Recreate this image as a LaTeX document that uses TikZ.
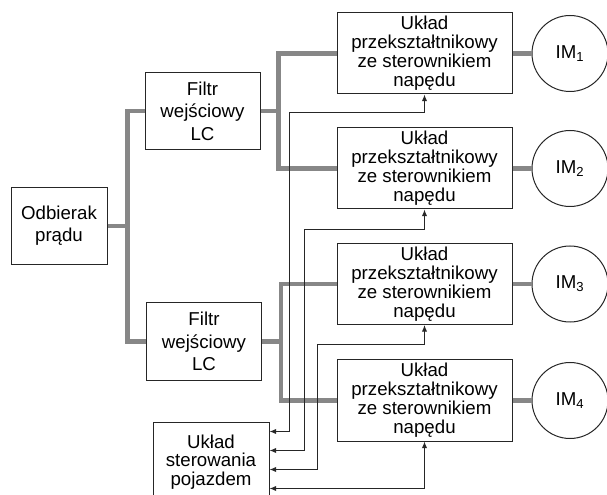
\documentclass[tikz,border=0pt]{standalone}
\usepackage{fontspec}
\setmainfont{Liberation Sans}
\usepackage{tikz}
\usetikzlibrary{arrows}
\usetikzlibrary{arrows.meta}
\usetikzlibrary{calc}
\definecolor{szyna}{RGB}{135,135,135}

\tikzset{
	blok/.style={draw=black!85, line width=0.75pt, align=center, inner sep=0pt},
	przeks/.style={blok, minimum width=131.25pt, minimum height=60.75pt, font=\fontsize{14}{14.2}\selectfont},
	filtr/.style={blok, minimum width=86.25pt, minimum height=58pt, font=\fontsize{14}{16.8}\selectfont},
	silnik/.style={draw=black!85, line width=0.75pt, circle, minimum size=57pt, inner sep=0pt, font=\fontsize{14}{16}\selectfont},
	zasil/.style={szyna, line width=3.6pt},
	sygnal/.style={black!85, line width=0.75pt, {Latex[length=5pt,width=4pt]}-{Latex[length=5pt,width=4pt]}}
}

\begin{document}
\begin{tikzpicture}[x=0.75pt, y=-0.75pt]
	\useasboundingbox (0,0) rectangle (607,495);
	% bloki
	\node[filtr, minimum width=72pt, font=\fontsize{14}{16.3}\selectfont] (odb) at (59,226) {Odbierak\\prądu};
	\node[filtr] (filtr1) at (202.5,111) {Filtr\\wejściowy\\LC};
	\node[filtr] (filtr2) at (204,341.5) {Filtr\\wejściowy\\LC};
	\node[blok, minimum width=87pt, minimum height=60pt, font=\fontsize{14}{13.9}\selectfont] (ster) at (211,462) {Układ\\sterowania\\pojazdem};
	\node[przeks] (conv1) at (424.5,53.5) {Układ\\przekształtnikowy\\ze sterownikiem\\napędu};
	\node[przeks] (conv2) at (424.5,168.5) {Układ\\przekształtnikowy\\ze sterownikiem\\napędu};
	\node[przeks] (conv3) at (424.5,284) {Układ\\przekształtnikowy\\ze sterownikiem\\napędu};
	\node[przeks] (conv4) at (424.5,400.5) {Układ\\przekształtnikowy\\ze sterownikiem\\napędu};
	\node[silnik] (im1) at (570,53.5) {IM\textsubscript{1}};
	\node[silnik] (im2) at (570,168.5) {IM\textsubscript{2}};
	\node[silnik] (im3) at (570,284) {IM\textsubscript{3}};
	\node[silnik] (im4) at (570,400.5) {IM\textsubscript{4}};
	% tory zasilania
	\draw[zasil] (odb.east) -- ++(20,0) coordinate (b0);
	\draw[zasil] (filtr1.west) -| (b0) |- (filtr2.west);
	\draw[zasil] (filtr1.east) -- ++(18,0) coordinate (b1);
	\draw[zasil] (conv1.west) -| (b1) |- (conv2.west);
	\draw[zasil] (filtr2.east) -- ++(19,0) coordinate (b2);
	\draw[zasil] (conv3.west) -| (b2) |- (conv4.west);
	\draw[zasil] (conv1.east) -- (im1.west);
	\draw[zasil] (conv2.east) -- (im2.west);
	\draw[zasil] (conv3.east) -- (im3.west);
	\draw[zasil] (conv4.east) -- (im4.west);
	% sygnaly sterujace
	\coordinate (s1) at ($(ster.north east)+(0,10)$);
	\coordinate (s2) at ($(ster.north east)+(0,29)$);
	\coordinate (s3) at ($(ster.north east)+(0,48)$);
	\coordinate (s4) at ($(ster.north east)+(0,67)$);
	\coordinate (k1) at ($(conv1.south)+(-135,18)$);
	\coordinate (k2) at ($(conv2.south)+(-120,20)$);
	\coordinate (k3) at ($(conv3.south)+(-107,20)$);
	\draw[sygnal] (conv1.south) |- (k1) |- (s1);
	\draw[sygnal] (conv2.south) |- (k2) |- (s2);
	\draw[sygnal] (conv3.south) |- (k3) |- (s3);
	\draw[sygnal] (conv4.south) |- (s4);
\end{tikzpicture}
\end{document}
